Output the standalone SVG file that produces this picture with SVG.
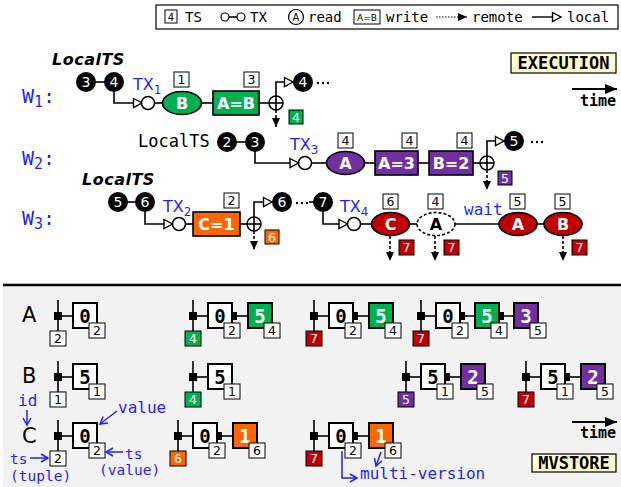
<svg xmlns="http://www.w3.org/2000/svg" width="621" height="487" viewBox="0 0 621 487">
<style>
.ln{stroke:#000;stroke-width:1.6;fill:none}
.dash{stroke:#000;stroke-width:1.6;fill:none;stroke-dasharray:3,2}
.bc{fill:#000}
.bt{fill:#fff;font-family:"DejaVu Sans",sans-serif;font-size:14px;text-anchor:middle}
.tsb{fill:#fff;stroke:#000;stroke-width:1}
.tst{fill:#000;font-family:"DejaVu Sans",sans-serif;font-size:12.5px;text-anchor:middle}
.tsw{fill:#fff;font-family:"DejaVu Sans",sans-serif;font-size:12.5px;text-anchor:middle}
.sh{stroke:#000;stroke-width:1.6}
.st{fill:#fff;font-family:"DejaVu Sans",sans-serif;font-size:16px;font-weight:bold;text-anchor:middle}
.vb{fill:#fff;stroke:#000;stroke-width:2}
.vt{fill:#000;font-family:"DejaVu Sans Mono",monospace;font-size:19px;font-weight:bold;text-anchor:middle}
.vw{fill:#fff;font-family:"DejaVu Sans Mono",monospace;font-size:19px;font-weight:bold;text-anchor:middle}
.wl{fill:#1f1fff;font-family:"DejaVu Sans Mono",monospace;font-size:20px}
.tx{fill:#1f1fff;font-family:"DejaVu Sans",sans-serif;font-size:16px}
.lts{fill:#000;font-family:"DejaVu Sans",sans-serif;font-size:16px;font-weight:bold;font-style:italic;letter-spacing:0.5px}
.blue{fill:#1f1fff;font-family:"DejaVu Sans Mono",monospace;font-size:16px}
.blue2{fill:#1f1fff;font-family:"DejaVu Sans Mono",monospace;font-size:14.5px}
.bl{stroke:#1f1fff;stroke-width:1.5;fill:none}
.lg{fill:#000;font-family:"DejaVu Sans Mono",monospace;font-size:14px}
.lab{fill:#000;font-family:"DejaVu Sans",sans-serif;font-size:21px}
.g{fill:#00b050}.p{fill:#7030a0}.o{fill:#ff6600}.r{fill:#c00000}
</style>
<defs>
<marker id="mOpen" markerUnits="userSpaceOnUse" markerWidth="12" markerHeight="12" refX="10" refY="6" orient="auto"><path d="M1.5,1.5 L10,6 L1.5,10.5 Z" fill="#fff" stroke="#000" stroke-width="1.4"/></marker>
<marker id="mFill" markerUnits="userSpaceOnUse" markerWidth="10" markerHeight="10" refX="9" refY="5" orient="auto"><path d="M0,1 L9,5 L0,9 Z" fill="#000"/></marker>
<marker id="mBlue" markerUnits="userSpaceOnUse" markerWidth="10" markerHeight="10" refX="8" refY="5" orient="auto"><path d="M1,1 L8,5 L1,9" fill="none" stroke="#1f1fff" stroke-width="1.5"/></marker>
<marker id="mTime" markerUnits="userSpaceOnUse" markerWidth="14" markerHeight="12" refX="12" refY="6" orient="auto"><path d="M0,1 L12,6 L0,11 Z" fill="#000"/></marker>
</defs>
<rect width="621" height="487" fill="#fff"/>

<!-- legend -->
<g id="legend">
<rect x="156" y="5" width="462" height="24" fill="#fff" stroke="#000" stroke-width="1.2"/>
<rect x="165" y="10" width="12" height="13" class="tsb"/><text x="171" y="20.5" font-family="DejaVu Sans,sans-serif" font-size="10" text-anchor="middle">4</text>
<text x="185" y="22" class="lg">TS</text>
<line x1="229" y1="17" x2="237" y2="17" class="ln" stroke-width="1.2"/>
<circle cx="225" cy="17" r="4" fill="#fff" stroke="#000" stroke-width="1.2"/><circle cx="241" cy="17" r="4" fill="#fff" stroke="#000" stroke-width="1.2"/>
<text x="250" y="22" class="lg">TX</text>
<circle cx="296" cy="17" r="7.5" fill="#fff" stroke="#000" stroke-width="1.2"/><text x="296" y="20.5" font-family="DejaVu Sans,sans-serif" font-size="10" text-anchor="middle">A</text>
<text x="308" y="22" class="lg">read</text>
<rect x="354" y="10" width="26" height="14" class="tsb"/><text x="367" y="20.5" font-family="DejaVu Sans,sans-serif" font-size="9" text-anchor="middle">A=B</text>
<text x="386" y="22" class="lg">write</text>
<line x1="436" y1="17" x2="467" y2="17" stroke="#000" stroke-width="1.2" stroke-dasharray="1.5,1.5" marker-end="url(#mFill)"/>
<text x="472" y="22" class="lg">remote</text>
<line x1="532" y1="17" x2="561" y2="17" stroke="#000" stroke-width="1.4" marker-end="url(#mOpen)"/>
<text x="567" y="22" class="lg">local</text>
</g>

<g id="execution-label">
<rect x="511" y="53" width="105" height="20" fill="#ffffcc" stroke="#000" stroke-width="1.2"/>
<text x="563.5" y="69" font-family="DejaVu Sans Mono,monospace" font-size="17" font-weight="bold" text-anchor="middle">EXECUTION</text>
<line x1="572" y1="89" x2="617" y2="89" stroke="#000" stroke-width="2" marker-end="url(#mTime)"/>
<text x="616" y="106" font-family="DejaVu Sans Mono,monospace" font-size="15" font-weight="bold" text-anchor="end">time</text>
</g>

<!-- worker labels -->
<g id="W1"><text x="22" y="103" class="wl">W<tspan font-size="15" dy="4">1</tspan><tspan dy="-4">:</tspan></text></g>
<g id="W2"><text x="22" y="165" class="wl">W<tspan font-size="15" dy="4">2</tspan><tspan dy="-4">:</tspan></text></g>
<g id="W3"><text x="22" y="225" class="wl">W<tspan font-size="15" dy="4">3</tspan><tspan dy="-4">:</tspan></text></g>

<!-- connectors -->
<g id="connectors">
<line x1="86" y1="82" x2="114" y2="82" class="ln"/>
<path d="M114,90 V103 H142" class="ln" marker-end="url(#mOpen)"/>
<line x1="154" y1="103" x2="163" y2="103" class="ln"/>
<line x1="201" y1="103" x2="213" y2="103" class="ln"/>
<line x1="259" y1="103" x2="283" y2="103" class="ln"/>
<path d="M276,110 V82 H293" class="ln" marker-end="url(#mOpen)"/>
<line x1="276" y1="110" x2="276" y2="127" class="dash" marker-end="url(#mFill)"/>
<line x1="227" y1="142" x2="255" y2="142" class="ln"/>
<path d="M255,150 V163 H298.5" class="ln" marker-end="url(#mOpen)"/>
<line x1="311" y1="163" x2="327" y2="163" class="ln"/>
<line x1="364" y1="163" x2="375" y2="163" class="ln"/>
<line x1="418" y1="163" x2="429" y2="163" class="ln"/>
<line x1="473" y1="163" x2="494" y2="163" class="ln"/>
<path d="M487,170 V141 H504" class="ln" marker-end="url(#mOpen)"/>
<line x1="487" y1="170" x2="487" y2="190" class="dash" marker-end="url(#mFill)"/>
<line x1="118" y1="202" x2="145" y2="202" class="ln"/>
<path d="M145,210 V224 H172.5" class="ln" marker-end="url(#mOpen)"/>
<line x1="185" y1="224" x2="193" y2="224" class="ln"/>
<line x1="240" y1="224" x2="261" y2="224" class="ln"/>
<path d="M254,231 V202 H272" class="ln" marker-end="url(#mOpen)"/>
<line x1="254" y1="231" x2="254" y2="250" class="dash" marker-end="url(#mFill)"/>
<line x1="309" y1="202" x2="314" y2="202" class="ln"/>
<path d="M323,210 V224 H347.5" class="ln" marker-end="url(#mOpen)"/>
<line x1="360" y1="224" x2="372" y2="224" class="ln"/>
<line x1="409" y1="224" x2="417" y2="224" class="ln"/>
<line x1="455" y1="224" x2="499" y2="224" class="ln"/>
<line x1="537" y1="224" x2="544" y2="224" class="ln"/>
<line x1="390" y1="236" x2="390" y2="261" class="dash" marker-end="url(#mFill)"/>
<line x1="435" y1="236" x2="435" y2="261" class="dash" marker-end="url(#mFill)"/>
<line x1="563" y1="236" x2="563" y2="261" class="dash" marker-end="url(#mFill)"/>
</g>

<!-- W1 nodes -->
<g id="W1-localts"><text x="52" y="65" class="lts">LocalTS</text></g>
<g id="W1-ts3"><circle cx="86" cy="82" r="10" class="bc"/><text x="86" y="87" class="bt">3</text></g>
<g id="W1-ts4"><circle cx="114" cy="82" r="10" class="bc"/><text x="114" y="87" class="bt">4</text></g>
<g id="TX1"><circle cx="148" cy="103" r="6.5" fill="#fff" stroke="#000" stroke-width="1.5"/><text x="133" y="90" class="tx">TX<tspan font-size="12" dy="4">1</tspan></text></g>
<g id="W1-readB"><ellipse cx="182" cy="103" rx="19.5" ry="11.5" class="g sh"/><text x="182" y="109" class="st">B</text>
<rect x="174" y="72" width="15" height="15" class="tsb"/><text x="181.5" y="84" class="tst">1</text></g>
<g id="W1-writeAB"><rect x="213" y="91" width="46" height="24" class="g sh"/><text x="236" y="109" class="st">A=B</text>
<rect x="244" y="72" width="15" height="15" class="tsb"/><text x="251.5" y="84" class="tst">3</text></g>
<g id="W1-commit"><circle cx="276" cy="103" r="7" fill="none" stroke="#000" stroke-width="1.5"/>
<rect x="289" y="110" width="14" height="14" class="g" stroke="#000" stroke-width="1"/><text x="296" y="121.5" class="tsw">4</text></g>
<g id="W1-next"><circle cx="303" cy="82" r="10" class="bc"/><text x="303" y="87" class="bt">4</text>
<circle cx="318" cy="83" r="1.2"/><circle cx="323" cy="83" r="1.2"/><circle cx="328" cy="83" r="1.2"/></g>

<!-- W2 nodes -->
<g id="W2-localts"><text x="138" y="147" font-family="DejaVu Sans Mono,monospace" font-size="17">LocalTS</text></g>
<g id="W2-ts2"><circle cx="227" cy="142" r="10" class="bc"/><text x="227" y="147" class="bt">2</text></g>
<g id="W2-ts3"><circle cx="255" cy="142" r="10" class="bc"/><text x="255" y="147" class="bt">3</text></g>
<g id="TX3"><circle cx="305" cy="163" r="6.5" fill="#fff" stroke="#000" stroke-width="1.5"/><text x="290" y="150" class="tx">TX<tspan font-size="12" dy="4">3</tspan></text></g>
<g id="W2-readA"><ellipse cx="345.5" cy="163" rx="19" ry="11.5" class="p sh"/><text x="345.5" y="169" class="st">A</text>
<rect x="338" y="133" width="15" height="15" class="tsb"/><text x="345.5" y="145" class="tst">4</text></g>
<g id="W2-writeA3"><rect x="375" y="151" width="43" height="24" class="p sh"/><text x="396.5" y="169" class="st">A=3</text>
<rect x="402" y="133" width="15" height="15" class="tsb"/><text x="409.5" y="145" class="tst">4</text></g>
<g id="W2-writeB2"><rect x="429" y="151" width="44" height="24" class="p sh"/><text x="451" y="169" class="st">B=2</text>
<rect x="457" y="133" width="15" height="15" class="tsb"/><text x="464.5" y="145" class="tst">4</text></g>
<g id="W2-commit"><circle cx="487" cy="163" r="7" fill="none" stroke="#000" stroke-width="1.5"/>
<rect x="498" y="171" width="14" height="14" class="p" stroke="#000" stroke-width="1"/><text x="505" y="182.5" class="tsw">5</text></g>
<g id="W2-next"><circle cx="514" cy="141" r="10" class="bc"/><text x="514" y="146" class="bt">5</text>
<circle cx="532" cy="142" r="1.2"/><circle cx="537" cy="142" r="1.2"/><circle cx="542" cy="142" r="1.2"/></g>

<!-- W3 nodes -->
<g id="W3-localts"><text x="82" y="185" class="lts">LocalTS</text></g>
<g id="W3-ts5"><circle cx="118" cy="202" r="10" class="bc"/><text x="118" y="207" class="bt">5</text></g>
<g id="W3-ts6"><circle cx="145" cy="202" r="10" class="bc"/><text x="145" y="207" class="bt">6</text></g>
<g id="TX2"><circle cx="179" cy="224" r="6.5" fill="#fff" stroke="#000" stroke-width="1.5"/><text x="163" y="212" class="tx">TX<tspan font-size="12" dy="4">2</tspan></text></g>
<g id="W3-writeC1"><rect x="193" y="212" width="47" height="24" class="o sh"/><text x="216.5" y="230" class="st">C=1</text>
<rect x="224" y="193" width="15" height="15" class="tsb"/><text x="231.5" y="205" class="tst">2</text></g>
<g id="W3-commit1"><circle cx="254" cy="224" r="7" fill="none" stroke="#000" stroke-width="1.5"/>
<rect x="265" y="230" width="14" height="14" class="o" stroke="#000" stroke-width="1"/><text x="272" y="241.5" class="tsw">6</text></g>
<g id="W3-ts6b"><circle cx="282" cy="202" r="10" class="bc"/><text x="282" y="207" class="bt">6</text>
<circle cx="297" cy="203" r="1.2"/><circle cx="302" cy="203" r="1.2"/><circle cx="307" cy="203" r="1.2"/></g>
<g id="W3-ts7"><circle cx="323" cy="202" r="10" class="bc"/><text x="323" y="207" class="bt">7</text></g>
<g id="TX4"><circle cx="354" cy="224" r="6.5" fill="#fff" stroke="#000" stroke-width="1.5"/><text x="340" y="212" class="tx">TX<tspan font-size="12" dy="4">4</tspan></text></g>
<g id="W3-readC"><ellipse cx="390.5" cy="224" rx="19" ry="11.5" class="r sh"/><text x="390.5" y="230" class="st">C</text>
<rect x="383" y="194" width="15" height="15" class="tsb"/><text x="390.5" y="206" class="tst">6</text>
<rect x="399" y="240" width="15" height="15" class="r" stroke="#000" stroke-width="1"/><text x="406.5" y="252" class="tsw">7</text></g>
<g id="W3-readA-wait"><ellipse cx="436" cy="224" rx="19" ry="11.5" fill="#fff" stroke="#000" stroke-width="1.6" stroke-dasharray="3,2"/><text x="436" y="230" class="st" style="fill:#000">A</text>
<rect x="428" y="194" width="15" height="15" class="tsb"/><text x="435.5" y="206" class="tst">4</text>
<rect x="444" y="240" width="15" height="15" class="r" stroke="#000" stroke-width="1"/><text x="451.5" y="252" class="tsw">7</text></g>
<g id="wait-label"><text x="464" y="215" class="blue">wait</text></g>
<g id="W3-readA"><ellipse cx="518" cy="224" rx="19" ry="11.5" class="r sh"/><text x="518" y="230" class="st">A</text>
<rect x="510" y="194" width="15" height="15" class="tsb"/><text x="517.5" y="206" class="tst">5</text></g>
<g id="W3-readB"><ellipse cx="563" cy="224" rx="19" ry="11.5" class="r sh"/><text x="563" y="230" class="st">B</text>
<rect x="555" y="194" width="15" height="15" class="tsb"/><text x="562.5" y="206" class="tst">5</text>
<rect x="572" y="240" width="15" height="15" class="r" stroke="#000" stroke-width="1"/><text x="579.5" y="252" class="tsw">7</text></g>

<!-- MVSTORE panel -->
<rect x="3" y="285" width="618" height="202" fill="#f2f2f2"/>
<line x1="3" y1="285" x2="621" y2="285" stroke="#000" stroke-width="2.5"/>
<g id="row-labels"><text x="22" y="322" class="lab">A</text><text x="22" y="383" class="lab">B</text><text x="22" y="443" class="lab">C</text></g>

<g id="A1">
<line x1="58" y1="300" x2="58" y2="331" class="ln"/><line x1="58" y1="316" x2="73" y2="316" class="ln"/><rect x="54" y="312" width="8" height="8"/>
<rect x="73" y="303" width="24" height="25" class="vb"/><text x="85" y="323" class="vt">0</text>
<rect x="89" y="323" width="16" height="15" class="tsb"/><text x="97" y="335" class="tst">2</text>
<rect x="50" y="331" width="16" height="15" class="tsb"/><text x="58" y="343" class="tst">2</text>
</g>
<g id="A2">
<line x1="193" y1="300" x2="193" y2="331" class="ln"/><line x1="193" y1="316" x2="208" y2="316" class="ln"/><rect x="189" y="312" width="8" height="8"/>
<line x1="232" y1="316" x2="248" y2="316" class="ln"/>
<rect x="208" y="303" width="24" height="25" class="vb"/><text x="220" y="323" class="vt">0</text>
<rect x="231" y="312" width="6" height="8"/>
<rect x="248" y="303" width="24" height="25" class="vb g"/><text x="260" y="323" class="vw">5</text>
<rect x="224" y="323" width="16" height="15" class="tsb"/><text x="232" y="335" class="tst">2</text>
<rect x="264" y="323" width="16" height="15" class="tsb"/><text x="272" y="335" class="tst">4</text>
<rect x="185" y="331" width="16" height="15" class="g" stroke="#000" stroke-width="1"/><text x="193" y="343" class="tsw">4</text>
</g>
<g id="A3">
<line x1="314" y1="300" x2="314" y2="331" class="ln"/><line x1="314" y1="316" x2="329" y2="316" class="ln"/><rect x="310" y="312" width="8" height="8"/>
<line x1="353" y1="316" x2="369" y2="316" class="ln"/>
<rect x="329" y="303" width="24" height="25" class="vb"/><text x="341" y="323" class="vt">0</text>
<rect x="352" y="312" width="6" height="8"/>
<rect x="369" y="303" width="24" height="25" class="vb g"/><text x="381" y="323" class="vw">5</text>
<rect x="345" y="323" width="16" height="15" class="tsb"/><text x="353" y="335" class="tst">2</text>
<rect x="385" y="323" width="16" height="15" class="tsb"/><text x="393" y="335" class="tst">4</text>
<rect x="306" y="331" width="16" height="15" class="r" stroke="#000" stroke-width="1"/><text x="314" y="343" class="tsw">7</text>
</g>
<g id="A4">
<line x1="421" y1="300" x2="421" y2="331" class="ln"/><line x1="421" y1="316" x2="436" y2="316" class="ln"/><rect x="417" y="312" width="8" height="8"/>
<line x1="460" y1="316" x2="514" y2="316" class="ln"/>
<rect x="436" y="303" width="24" height="25" class="vb"/><text x="448" y="323" class="vt">0</text>
<rect x="459" y="312" width="6" height="8"/>
<rect x="475" y="303" width="24" height="25" class="vb g"/><text x="487" y="323" class="vw">5</text>
<rect x="498" y="312" width="6" height="8"/>
<rect x="514" y="303" width="24" height="25" class="vb p"/><text x="526" y="323" class="vw">3</text>
<rect x="452" y="323" width="16" height="15" class="tsb"/><text x="460" y="335" class="tst">2</text>
<rect x="491" y="323" width="16" height="15" class="tsb"/><text x="499" y="335" class="tst">4</text>
<rect x="530" y="323" width="16" height="15" class="tsb"/><text x="538" y="335" class="tst">5</text>
<rect x="413" y="331" width="16" height="15" class="r" stroke="#000" stroke-width="1"/><text x="421" y="343" class="tsw">7</text>
</g>

<g id="B1">
<line x1="58" y1="361" x2="58" y2="392" class="ln"/><line x1="58" y1="377" x2="73" y2="377" class="ln"/><rect x="54" y="373" width="8" height="8"/>
<rect x="73" y="364" width="24" height="25" class="vb"/><text x="85" y="384" class="vt">5</text>
<rect x="89" y="384" width="16" height="15" class="tsb"/><text x="97" y="396" class="tst">1</text>
<rect x="50" y="392" width="16" height="15" class="tsb"/><text x="58" y="404" class="tst">1</text>
</g>
<g id="B2">
<line x1="193" y1="361" x2="193" y2="392" class="ln"/><line x1="193" y1="377" x2="208" y2="377" class="ln"/><rect x="189" y="373" width="8" height="8"/>
<rect x="208" y="364" width="24" height="25" class="vb"/><text x="220" y="384" class="vt">5</text>
<rect x="224" y="384" width="16" height="15" class="tsb"/><text x="232" y="396" class="tst">1</text>
<rect x="185" y="392" width="16" height="15" class="g" stroke="#000" stroke-width="1"/><text x="193" y="404" class="tsw">4</text>
</g>
<g id="B3">
<line x1="406" y1="361" x2="406" y2="392" class="ln"/><line x1="406" y1="377" x2="421" y2="377" class="ln"/><rect x="402" y="373" width="8" height="8"/>
<line x1="445" y1="377" x2="461" y2="377" class="ln"/>
<rect x="421" y="364" width="24" height="25" class="vb"/><text x="433" y="384" class="vt">5</text>
<rect x="444" y="373" width="6" height="8"/>
<rect x="461" y="364" width="24" height="25" class="vb p"/><text x="473" y="384" class="vw">2</text>
<rect x="437" y="384" width="16" height="15" class="tsb"/><text x="445" y="396" class="tst">1</text>
<rect x="477" y="384" width="16" height="15" class="tsb"/><text x="485" y="396" class="tst">5</text>
<rect x="398" y="392" width="16" height="15" class="p" stroke="#000" stroke-width="1"/><text x="406" y="404" class="tsw">5</text>
</g>
<g id="B4">
<line x1="526" y1="361" x2="526" y2="392" class="ln"/><line x1="526" y1="377" x2="541" y2="377" class="ln"/><rect x="522" y="373" width="8" height="8"/>
<line x1="565" y1="377" x2="581" y2="377" class="ln"/>
<rect x="541" y="364" width="24" height="25" class="vb"/><text x="553" y="384" class="vt">5</text>
<rect x="564" y="373" width="6" height="8"/>
<rect x="581" y="364" width="24" height="25" class="vb p"/><text x="593" y="384" class="vw">2</text>
<rect x="557" y="384" width="16" height="15" class="tsb"/><text x="565" y="396" class="tst">1</text>
<rect x="597" y="384" width="16" height="15" class="tsb"/><text x="605" y="396" class="tst">5</text>
<rect x="518" y="392" width="16" height="15" class="r" stroke="#000" stroke-width="1"/><text x="526" y="404" class="tsw">7</text>
</g>

<g id="C1">
<line x1="58" y1="420" x2="58" y2="451" class="ln"/><line x1="58" y1="436" x2="73" y2="436" class="ln"/><rect x="54" y="432" width="8" height="8"/>
<rect x="73" y="423" width="24" height="25" class="vb"/><text x="85" y="443" class="vt">0</text>
<rect x="89" y="443" width="16" height="15" class="tsb"/><text x="97" y="455" class="tst">2</text>
<rect x="50" y="451" width="16" height="15" class="tsb"/><text x="58" y="463" class="tst">2</text>
</g>
<g id="C2">
<line x1="178" y1="420" x2="178" y2="451" class="ln"/><line x1="178" y1="436" x2="193" y2="436" class="ln"/><rect x="174" y="432" width="8" height="8"/>
<line x1="217" y1="436" x2="233" y2="436" class="ln"/>
<rect x="193" y="423" width="24" height="25" class="vb"/><text x="205" y="443" class="vt">0</text>
<rect x="216" y="432" width="6" height="8"/>
<rect x="233" y="423" width="24" height="25" class="vb o"/><text x="245" y="443" class="vw">1</text>
<rect x="209" y="443" width="16" height="15" class="tsb"/><text x="217" y="455" class="tst">2</text>
<rect x="249" y="443" width="16" height="15" class="tsb"/><text x="257" y="455" class="tst">6</text>
<rect x="170" y="451" width="16" height="15" class="o" stroke="#000" stroke-width="1"/><text x="178" y="463" class="tsw">6</text>
</g>
<g id="C3">
<line x1="314" y1="420" x2="314" y2="451" class="ln"/><line x1="314" y1="436" x2="329" y2="436" class="ln"/><rect x="310" y="432" width="8" height="8"/>
<line x1="353" y1="436" x2="369" y2="436" class="ln"/>
<rect x="329" y="423" width="24" height="25" class="vb"/><text x="341" y="443" class="vt">0</text>
<rect x="352" y="432" width="6" height="8"/>
<rect x="369" y="423" width="24" height="25" class="vb o"/><text x="381" y="443" class="vw">1</text>
<rect x="345" y="443" width="16" height="15" class="tsb"/><text x="353" y="455" class="tst">2</text>
<rect x="385" y="443" width="16" height="15" class="tsb"/><text x="393" y="455" class="tst">6</text>
<rect x="306" y="451" width="16" height="15" class="r" stroke="#000" stroke-width="1"/><text x="314" y="463" class="tsw">7</text>
</g>

<g id="annotations">
<text x="18" y="406" class="blue">id</text>
<line x1="27" y1="410" x2="27" y2="425" class="bl" marker-end="url(#mBlue)"/>
<text x="118" y="413" class="blue">value</text>
<line x1="117" y1="411" x2="100" y2="424" class="bl" marker-end="url(#mBlue)"/>
<line x1="123" y1="452" x2="106" y2="452" class="bl" marker-end="url(#mBlue)"/>
<text x="125" y="459" class="blue2">ts</text>
<text x="99" y="475" class="blue2">(value)</text>
<text x="10" y="464" class="blue2">ts</text>
<line x1="30" y1="458" x2="48" y2="458" class="bl" marker-end="url(#mBlue)"/>
<text x="10" y="481" class="blue2">(tuple)</text>
<path d="M342,451 V478 H357" class="bl" marker-end="url(#mBlue)"/>
<line x1="381" y1="452" x2="376" y2="466" class="bl" marker-end="url(#mBlue)"/>
<text x="360" y="479" class="blue">multi-version</text>
</g>

<g id="mvstore-label">
<line x1="572" y1="422" x2="617" y2="422" stroke="#000" stroke-width="2" marker-end="url(#mTime)"/>
<text x="616" y="438" font-family="DejaVu Sans Mono,monospace" font-size="15" font-weight="bold" text-anchor="end">time</text>
<rect x="532" y="454" width="84" height="18" fill="#ffffcc" stroke="#000" stroke-width="1.2"/>
<text x="574" y="469" font-family="DejaVu Sans Mono,monospace" font-size="17" font-weight="bold" text-anchor="middle">MVSTORE</text>
</g>
</svg>
